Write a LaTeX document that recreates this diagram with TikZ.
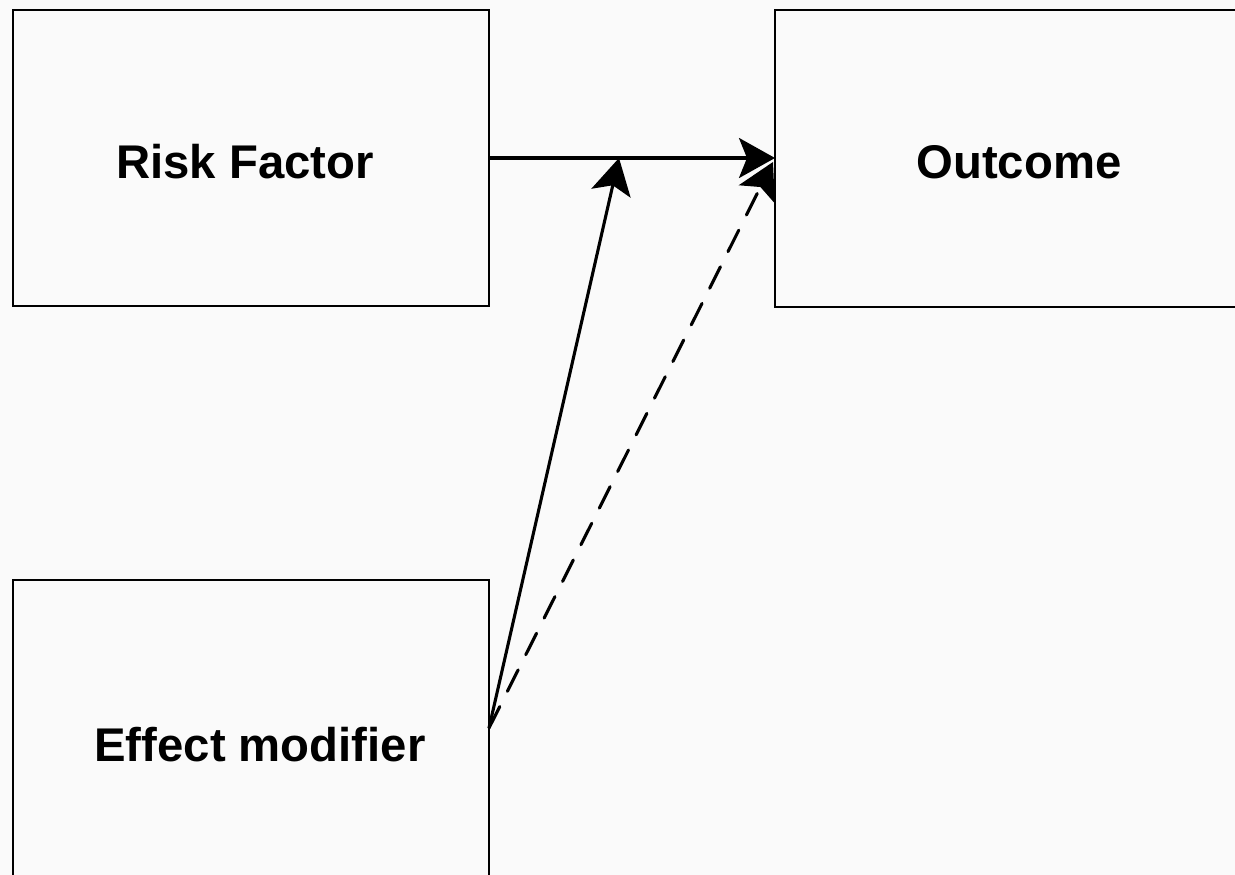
\documentclass[tikz,border=0pt]{standalone}
\usepackage{fontspec}
\setmainfont{Liberation Sans}
\usetikzlibrary{arrows.meta}
\begin{document}
\begin{tikzpicture}[x=1pt,y=-1pt,
  box/.style={draw=black,line width=1.5pt,fill=white!98!black},
  lbl/.style={font=\bfseries\fontsize{47.3}{52}\selectfont,inner sep=0pt},
  conn/.style={line width=3.1pt,-{Stealth[length=36pt,width=40pt,inset=8pt]}},
  dconn/.style={conn,line cap=round,dash pattern=on 24pt off 17pt}]
  \fill[white!98!black] (0,0) rectangle (1235,875);
  \useasboundingbox (0,0) rectangle (1235,875);
  \begin{scope}
    \clip (0,0) rectangle (1235,875);
    \draw[box] (13,10) rectangle (489,306);
    \draw[box] (775,10) rectangle (1270,307);
    \draw[box] (13,580) rectangle (489,900);
  \end{scope}
  \node[lbl] (rf) at (245,162) {Risk Factor};
  \node[lbl] (out) at (1019,162) {Outcome};
  \node[lbl] (em) at (260,745) {Effect modifier};
  \coordinate (rfE) at (489,158);
  \coordinate (outW) at (775,158);
  \coordinate (emE) at (489,728);
  \coordinate (mid) at (619,158);
  \coordinate (outD) at (773,162);
  \draw[conn] (rfE) -- (outW);
  \draw[conn] (emE) -- (mid);
  \draw[dconn] (emE) -- (outD);
\end{tikzpicture}
\end{document}
